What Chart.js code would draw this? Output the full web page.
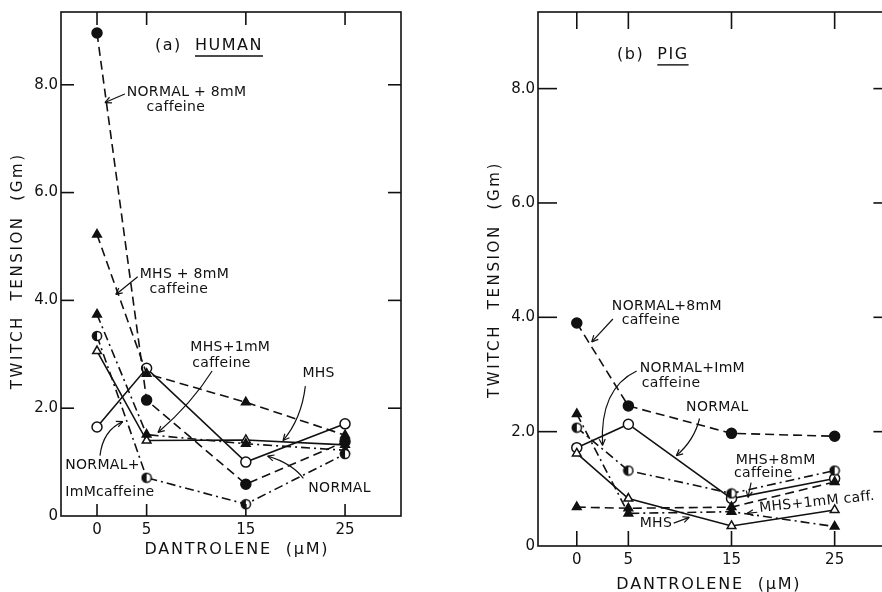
<!DOCTYPE html>
<html>
<head>
<meta charset="utf-8">
<script src="https://cdn.jsdelivr.net/npm/chart.js@4.4.0/dist/chart.umd.min.js"></script>
<style>
html, body { margin: 0; padding: 0; background: #fff; overflow: hidden; }
#wrap { position: relative; width: 882px; height: 592px; overflow: hidden; background: #fff; }
canvas { position: absolute; top: 0; }
#humanChart { left: 0; }
#pigChart { left: 441px; }
</style>
</head>
<body>
<div id="wrap">
<canvas id="humanChart" width="441" height="592"></canvas>
<canvas id="pigChart" width="441" height="592"></canvas>
</div>
<script>
// dantrolene doses (uM) and twitch tension ticks (Gm)
const dantrolene = [0, 5, 15, 25];
const tensionTicks = [0, 2, 4, 6, 8];

// (a) human muscle
const humanNormal = [1.65, 2.74, 1.00, 1.71];
const humanMhs = [3.06, 1.40, 1.41, 1.32];
const humanNormal8 = [8.96, 2.15, 0.59, 1.38];
const humanMhs8 = [5.22, 2.64, 2.11, 1.50];
const humanNormal1 = [3.34, 0.71, 0.22, 1.15];
const humanMhs1 = [3.74, 1.51, 1.34, 1.22];

// (b) pig muscle
const pigNormal = [1.72, 2.13, 0.83, 1.18];
const pigMhs = [1.62, 0.83, 0.35, 0.63];
const pigNormal8 = [3.90, 2.45, 1.97, 1.92];
const pigMhs8 = [0.68, 0.66, 0.68, 1.12];
const pigNormal1 = [2.07, 1.32, 0.92, 1.32];
const pigMhs1 = [2.31, 0.57, 0.60, 0.34];

const FONT = 'DejaVu Sans';
const INK = '#111';

// half filled circle marker for the 1mM caffeine curves
function halfCircle() {
    const c = document.createElement('canvas');
    c.width = 12; c.height = 12;
    const g = c.getContext('2d');
    g.beginPath(); g.arc(6, 6, 4.6, 0, Math.PI * 2); g.fillStyle = '#fff'; g.fill();
    g.beginPath(); g.moveTo(6, 6); g.arc(6, 6, 4.6, Math.PI / 2, Math.PI * 1.5); g.closePath();
    g.fillStyle = INK; g.fill();
    g.beginPath(); g.arc(6, 6, 4.6, 0, Math.PI * 2); g.lineWidth = 1.5; g.strokeStyle = INK; g.stroke();
    return c;
}

const DASH = [9, 5];
const DASHDOT = [9, 4, 2, 4];

function series(label, values, marker, fill, dash) {
    return {
        label: label,
        data: values.map((v, i) => ({ x: dantrolene[i], y: v })),
        borderColor: INK,
        borderWidth: 1.6,
        borderDash: dash,
        pointStyle: marker,
        pointRadius: 5,
        pointBorderWidth: 1.5,
        pointBorderColor: INK,
        pointBackgroundColor: fill,
        tension: 0,
        fill: false
    };
}

function datasets(n, m, n8, m8, n1, m1, half) {
    return [
        series('NORMAL + 1mM caffeine', n1, half, INK, DASHDOT),
        series('MHS + 1mM caffeine', m1, 'triangle', INK, DASHDOT),
        series('NORMAL + 8mM caffeine', n8, 'circle', INK, DASH),
        series('MHS + 8mM caffeine', m8, 'triangle', INK, DASH),
        series('MHS', m, 'triangle', '#fff', []),
        series('NORMAL', n, 'circle', '#fff', [])
    ];
}

// labels with their pointer arrows, placed in data units
const humanNotes = [
    { lines: ['NORMAL + 8mM', 'caffeine'], at: [[3.0, 7.85], [5.0, 7.58]], arrow: [[2.8, 7.83], null, [0.8, 7.67]] },
    { lines: ['MHS + 8mM', 'caffeine'], at: [[4.3, 4.48], [5.3, 4.2]], arrow: [[4.1, 4.44], null, [1.9, 4.11]] },
    { lines: ['MHS+1mM', 'caffeine'], at: [[9.4, 3.12], [9.6, 2.84]], arrow: [[11.6, 2.69], [9.6, 2.1], [6.15, 1.55]] },
    { lines: ['MHS'], at: [[20.7, 2.65]], arrow: [[21.0, 2.41], [20.6, 1.8], [18.75, 1.40]] },
    { lines: ['NORMAL'], at: [[21.3, 0.52]], arrow: [[20.8, 0.70], [19.6, 0.98], [17.2, 1.11]] },
    { lines: ['NORMAL+', 'ImMcaffeine'], at: [[-3.2, 0.94], [-3.2, 0.44]], arrow: [[0.3, 1.12], [0.6, 1.59], [2.6, 1.75]] }
];

const pigNotes = [
    { lines: ['NORMAL+8mM', 'caffeine'], at: [[3.4, 4.19], [4.35, 3.95]], arrow: [[3.5, 3.97], null, [1.45, 3.57]] },
    { lines: ['NORMAL+ImM', 'caffeine'], at: [[6.1, 3.11], [6.3, 2.85]], arrow: [[5.8, 3.06], [2.2, 2.75], [2.5, 1.76]] },
    { lines: ['NORMAL'], at: [[10.6, 2.42]], arrow: [[11.9, 2.23], [11.4, 1.85], [9.65, 1.58]] },
    { lines: ['MHS+8mM', 'caffeine'], at: [[15.4, 1.50], [15.25, 1.27]], arrow: [[16.9, 1.11], null, [16.6, 0.85]] },
    { lines: ['MHS+1mM caff.'], at: [[17.7, 0.66]], rotate: -6, arrow: [[17.5, 0.59], null, [16.5, 0.57]] },
    { lines: ['MHS'], at: [[6.1, 0.40]], arrow: [[9.4, 0.40], null, [10.9, 0.50]] }
];

const panelDecor = {
    id: 'panelDecor',
    afterDatasetsDraw(chart, args, o) {
        const { ctx, chartArea: a, scales: { x, y } } = chart;
        const px = v => x.getPixelForValue(v);
        const py = v => y.getPixelForValue(v);
        const seg = (x1, y1, x2, y2) => { ctx.beginPath(); ctx.moveTo(x1, y1); ctx.lineTo(x2, y2); ctx.stroke(); };
        // the frame's right edge may lie past the canvas; take it from the x scale
        const right = px(o.frameRight);

        ctx.save();
        ctx.strokeStyle = INK;
        ctx.fillStyle = INK;
        ctx.lineWidth = 1.6;
        ctx.setLineDash([]);
        ctx.strokeRect(a.left, a.top, right - a.left, a.bottom - a.top);

        // ticks point into the frame on all four sides
        dantrolene.forEach(v => {
            seg(px(v), a.bottom, px(v), a.bottom - o.tickBottom);
            seg(px(v), a.top, px(v), a.top + o.tickTop);
        });
        tensionTicks.slice(1).forEach(v => {
            seg(a.left, py(v), a.left + o.tickSide, py(v));
            seg(right, py(v), right - o.tickSide, py(v));
        });

        // axis titles
        ctx.textBaseline = 'middle';
        ctx.textAlign = 'center';
        ctx.font = '16px "' + FONT + '"';
        ctx.letterSpacing = '1.8px';
        ctx.fillText('DANTROLENE  (\u03bcM)', px(o.xTitle[0]), py(o.xTitle[1]));
        ctx.save();
        ctx.translate(px(o.yTitle[0]), py(o.yTitle[1]));
        ctx.rotate(-Math.PI / 2);
        ctx.font = '15px "' + FONT + '"';
        ctx.letterSpacing = '2.6px';
        ctx.fillText('TWITCH  TENSION  (Gm)', 0, 0);
        ctx.restore();

        // panel heading with underlined species
        ctx.textAlign = 'left';
        ctx.font = '16px "' + FONT + '"';
        ctx.letterSpacing = '1.5px';
        const hx = px(o.heading.at[0]);
        const hy = py(o.heading.at[1]);
        ctx.fillText(o.heading.tag, hx, hy);
        const sx = hx + ctx.measureText(o.heading.tag).width;
        ctx.fillText(o.heading.name, sx, hy);
        const sw = ctx.measureText(o.heading.name).width;
        ctx.lineWidth = 1.4;
        seg(sx, hy + 10, sx + sw, hy + 10);

        // curve labels and arrows
        ctx.font = '14px "' + FONT + '"';
        ctx.letterSpacing = '0.3px';
        ctx.lineWidth = 1.2;
        o.notes.forEach(n => {
            n.lines.forEach((t, i) => {
                ctx.save();
                ctx.translate(px(n.at[i][0]), py(n.at[i][1]));
                if (n.rotate) ctx.rotate(n.rotate * Math.PI / 180);
                ctx.fillText(t, 0, 0);
                ctx.restore();
            });
            const [s, c, e] = n.arrow;
            const x0 = px(s[0]), y0 = py(s[1]), x1 = px(e[0]), y1 = py(e[1]);
            ctx.beginPath();
            ctx.moveTo(x0, y0);
            let fx = x0, fy = y0;
            if (c) {
                fx = px(c[0]); fy = py(c[1]);
                ctx.quadraticCurveTo(fx, fy, x1, y1);
            } else {
                ctx.lineTo(x1, y1);
            }
            ctx.stroke();
            const ang = Math.atan2(y1 - fy, x1 - fx);
            [0.45, -0.45].forEach(d => seg(x1, y1, x1 - 7 * Math.cos(ang + d), y1 - 7 * Math.sin(ang + d)));
        });
        ctx.restore();
    }
};

function makePanel(id, sets, p) {
    return new Chart(document.getElementById(id), {
        type: 'line',
        data: { datasets: sets },
        plugins: [panelDecor],
        options: {
            responsive: false,
            animation: false,
            devicePixelRatio: 1,
            layout: { padding: { top: 9, right: p.padRight, left: 0, bottom: 0 } },
            plugins: {
                legend: { display: false },
                tooltip: { enabled: false },
                panelDecor: p.decor
            },
            scales: {
                x: {
                    type: 'linear',
                    min: p.xMin,
                    max: p.xMax,
                    afterBuildTicks: s => { s.ticks = dantrolene.map(v => ({ value: v })); },
                    afterFit: s => { s.height = p.xHeight; },
                    grid: { display: false, drawTicks: false },
                    border: { display: false },
                    ticks: {
                        autoSkip: false,
                        maxRotation: 0,
                        padding: 5,
                        color: INK,
                        font: { family: FONT, size: 15 }
                    }
                },
                y: {
                    min: 0,
                    max: p.yMax,
                    afterBuildTicks: s => { s.ticks = tensionTicks.map(v => ({ value: v })); },
                    afterFit: s => { s.width = p.yWidth; },
                    grid: { display: false, drawTicks: false },
                    border: { display: false },
                    ticks: {
                        padding: 3,
                        color: INK,
                        font: { family: FONT, size: 15 },
                        callback: v => v === 0 ? '0' : v.toFixed(1)
                    }
                }
            }
        }
    });
}

function initializeCharts() {
    const half = halfCircle();

    makePanel('humanChart',
        datasets(humanNormal, humanMhs, humanNormal8, humanMhs8, humanNormal1, humanMhs1, half),
        {
            xMin: -3.63, xMax: 30.64, yMax: 9.35,
            yWidth: 61, xHeight: 76, padRight: 40,
            decor: {
                frameRight: 30.64,
                tickBottom: 12, tickTop: 13, tickSide: 13,
                xTitle: [14.1, -0.63], yTitle: [-7.96, 4.55],
                heading: { tag: '(a)  ', name: 'HUMAN', at: [5.85, 8.72] },
                notes: humanNotes
            }
        });

    // x range ends near the canvas edge; the frame closes a little further right
    makePanel('pigChart',
        datasets(pigNormal, pigMhs, pigNormal8, pigMhs8, pigNormal1, pigMhs1, half),
        {
            xMin: -3.76, xMax: 28.96, yMax: 9.34,
            yWidth: 97, xHeight: 46, padRight: 0,
            decor: {
                frameRight: 30.6,
                tickBottom: 15, tickTop: 17, tickSide: 19,
                xTitle: [12.8, -0.68], yTitle: [-7.9, 4.66],
                heading: { tag: '(b)  ', name: 'PIG', at: [3.9, 8.59] },
                notes: pigNotes
            }
        });
}

if (document.readyState === 'loading') {
    document.addEventListener('DOMContentLoaded', initializeCharts);
} else {
    initializeCharts();
}
</script>
</body>
</html>
